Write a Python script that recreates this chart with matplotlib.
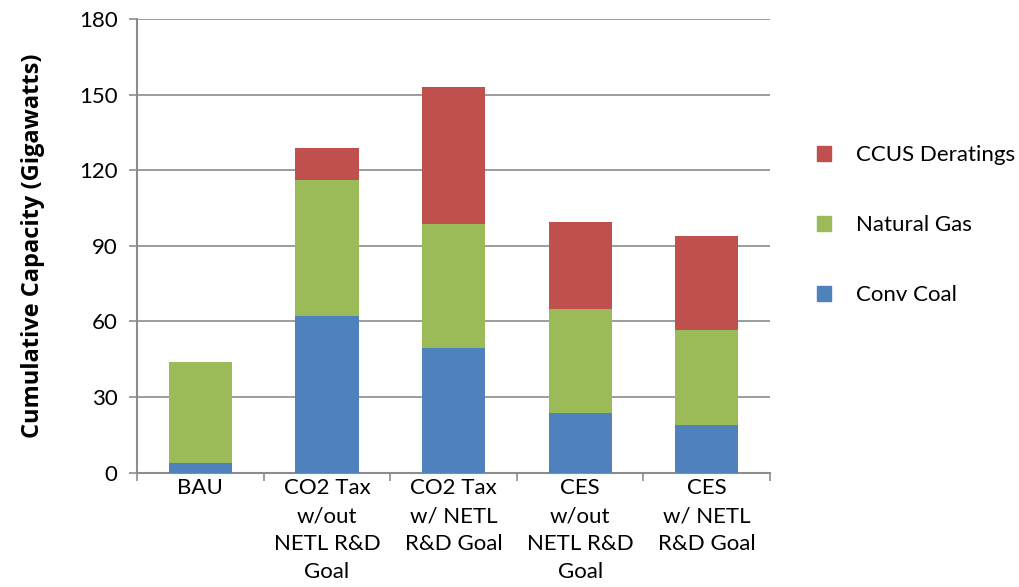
import matplotlib.pyplot as plt
from matplotlib.patches import Patch

plt.rcParams['font.family'] = ['Lato', 'DejaVu Sans']

categories = ["BAU", "CO2 Tax\nw/out\nNETL R&D\nGoal", "CO2 Tax\nw/ NETL\nR&D Goal",
              "CES\nw/out\nNETL R&D\nGoal", "CES\nw/ NETL\nR&D Goal"]
conv_coal = [4, 62, 49.5, 23.5, 19]
natural_gas = [40, 54, 49, 41.5, 37.5]
ccus_deratings = [0, 13, 54.5, 34.5, 37.5]
yticks = [0, 30, 60, 90, 120, 150, 180]

c_coal = "#4F81BD"
c_gas = "#9BBB59"
c_ccus = "#C0504D"
grid_c = "#8C8C8C"

fig = plt.figure(figsize=(10.2, 5.87), dpi=100)
ax = fig.add_axes([0.1343, 0.1947, 0.6207, 0.7729])

x = list(range(len(categories)))
gas_bottom = conv_coal
ccus_bottom = [a + b for a, b in zip(conv_coal, natural_gas)]

ax.bar(x, conv_coal, width=0.5, color=c_coal, zorder=3)
ax.bar(x, natural_gas, width=0.5, bottom=gas_bottom, color=c_gas, zorder=3)
ax.bar(x, ccus_deratings, width=0.5, bottom=ccus_bottom, color=c_ccus, zorder=3)

ax.set_xlim(-0.5, len(categories) - 0.5)
ax.set_ylim(0, 180)
ax.set_yticks(yticks)
ax.tick_params(axis='y', labelsize=16, length=6, color=grid_c, width=1.2, pad=8)
ax.yaxis.grid(True, color=grid_c, linewidth=1.2, zorder=0)

ax.set_xticks(x)
ax.set_xticklabels(categories, fontsize=16, linespacing=1.5)
ax.tick_params(axis='x', length=0, pad=4)
# category boundary ticks below the axis
ax.set_xticks([i - 0.5 for i in range(len(categories) + 1)], minor=True)
ax.tick_params(axis='x', which='minor', length=6, color=grid_c, width=1.2, direction='out')

for side in ['top', 'right']:
    ax.spines[side].set_visible(False)
for side in ['left', 'bottom']:
    ax.spines[side].set_color(grid_c)
    ax.spines[side].set_linewidth(1.5)

ax.set_ylabel("Cumulative Capacity (Gigawatts)", fontsize=17, fontweight='bold',
              family=['Open Sans', 'DejaVu Sans'], labelpad=24)

handles = [Patch(color=c_ccus, label="CCUS Deratings"),
           Patch(color=c_gas, label="Natural Gas"),
           Patch(color=c_coal, label="Conv Coal")]
fig.legend(handles=handles, loc='upper left', bbox_to_anchor=(0.781, 0.787),
           frameon=False, fontsize=16, handlelength=0.65, handleheight=0.65,
           labelspacing=2.25, handletextpad=1.1)

fig.savefig("out.png", dpi=100)
